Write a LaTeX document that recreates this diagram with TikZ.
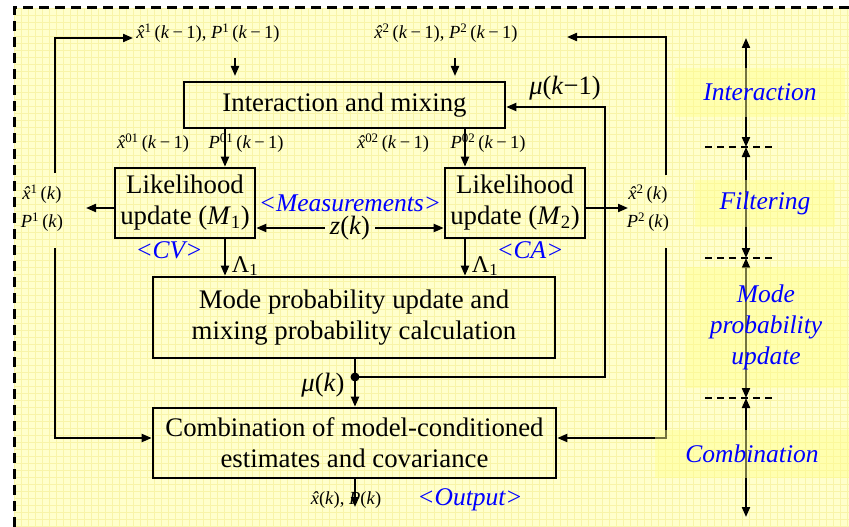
\documentclass[tikz,border=0pt]{standalone}
\usepackage{fontspec}
\setmainfont{Liberation Serif}
\usetikzlibrary{arrows.meta}
\definecolor{bgc}{RGB}{255,255,204}
\definecolor{gridc}{RGB}{248,244,168}
\definecolor{lblc}{RGB}{255,255,140}
\newcommand{\xh}{\textit{\accent"02C6 x}}
\newcommand{\km}{(\textit{k}\hspace{0.18em}−\hspace{0.18em}1)}
\begin{document}
\begin{tikzpicture}[x=1pt,y=-1pt,
  box/.style={draw, line width=2.6pt, inner sep=0pt, align=center, font=\fontsize{26.8}{31}\selectfont},
  arr/.style={line width=2pt, -{Triangle[length=10pt,width=8pt]}},
  ln/.style={line width=2pt},
  sm/.style={font=\fontsize{18.5}{22}\selectfont, inner sep=1pt, align=center},
  big/.style={font=\fontsize{26.5}{31}\selectfont, inner sep=1pt},
  blu/.style={text=blue, font=\fontsize{25.5}{30}\selectfont\itshape, inner sep=1pt},
  phase/.style={fill=lblc, fill opacity=0.45, text opacity=1, text=blue, font=\fontsize{25.5}{31}\selectfont\itshape, align=center, inner sep=0pt},
  dbl/.style={line width=2pt, {Triangle[length=10pt,width=8pt]}-{Triangle[length=10pt,width=8pt]}},
  sepl/.style={line width=2pt, dash pattern=on 7pt off 5pt},
  gridl/.style={gridc, line width=0.4pt}
]
\useasboundingbox (0,0) rectangle (849,527);
\fill[bgc] (14,8) rectangle (849,527);
\foreach \i in {0,...,119} \draw[gridl] ({14+7*\i},8) -- ({14+7*\i},527);
\foreach \j in {0,...,74} \draw[gridl] (14,{8+7*\j}) -- (849,{8+7*\j});
\draw[line width=3pt, dash pattern=on 10pt off 6pt] (14,527) -- (14,8) -- (849,8);

% boxes
\node[box, minimum width=321pt, minimum height=46pt] (inter) at (344.5,105) {Interaction and mixing};
\node[box, minimum width=140pt, minimum height=70pt] (lik1) at (185,203) {Likelihood\\update (\textit{M}\textsubscript{1})};
\node[box, minimum width=140pt, minimum height=70pt] (lik2) at (515,203) {Likelihood\\update (\textit{M}\textsubscript{2})};
\node[box, minimum width=402pt, minimum height=81pt] (mode) at (354,317.5) {Mode probability update and\\mixing probability calculation};
\node[box, minimum width=403pt, minimum height=70pt] (comb) at (354.5,443) {Combination of model-conditioned\\estimates and covariance};

% labels
\node[sm] (tl) at (208,33) {\xh\textsuperscript{1}\,\km, \textit{P}\textsuperscript{1}\,\km};
\node[sm] (tr) at (446,33) {\xh\textsuperscript{2}\,\km, \textit{P}\textsuperscript{2}\,\km};
\node[sm] (x01) at (153,143) {\xh\textsuperscript{01}\,\km};
\node[sm] (p01) at (246,143) {\textit{P}\textsuperscript{01}\,\km};
\node[sm] (x02) at (393,143) {\xh\textsuperscript{02}\,\km};
\node[sm] (p02) at (488,143) {\textit{P}\textsuperscript{02}\,\km};
\node[sm] (o1) at (42,208) {\xh\textsuperscript{1}\,(\textit{k})\\[6pt]\textit{P}\textsuperscript{1}\,(\textit{k})};
\node[sm] (o2) at (648,208) {\xh\textsuperscript{2}\,(\textit{k})\\[6pt]\textit{P}\textsuperscript{2}\,(\textit{k})};
\node[big] (mu1) at (565,88) {\textit{μ}(\textit{k}−1)};
\node[big, inner sep=5pt] (zk) at (350,228) {\textit{z}(\textit{k})};
\node[big] (mu) at (323,385) {\textit{μ}(\textit{k})};
\node[font=\fontsize{24}{28}\selectfont, inner sep=1pt] (lam1) at (245,266) {Λ\textsubscript{1}};
\node[font=\fontsize{24}{28}\selectfont, inner sep=1pt] (lam2) at (485,266) {Λ\textsubscript{1}};
\node[blu] (meas) at (350,203) {<Measurements>};
\node[blu] (cv) at (169,250) {<CV>};
\node[blu] (ca) at (530,250) {<CA>};
\node[blu] (outp) at (470,500) {<Output>};
\node[sm] (outl) at (346,500) {\xh(\textit{k}), \textit{P}(\textit{k})};

% coordinates
\coordinate (c1) at (225,0);
\coordinate (c2) at (465,0);
\coordinate (c3) at (355,0);
\coordinate (l1top) at (55,173);
\coordinate (l1bot) at (55,248);
\coordinate (r1top) at (666,175);
\coordinate (r1bot) at (666,248);
\coordinate (tltip) at (133,38);
\coordinate (trtip) at (567,37);
\coordinate (ina) at (235,58);
\coordinate (ina2) at (235,76);
\coordinate (inb) at (455,58);
\coordinate (inb2) at (455,76);
\coordinate (murun) at (605,107);
\coordinate (dot) at (355,377);
\coordinate (o1tip) at (86,208);
\coordinate (o2tip) at (628,208);
\coordinate (outtip) at (355,507);

% connectors
\draw[arr] (l1top) |- (tltip);
\draw[arr] (l1bot) |- ([yshift=5pt]comb.west);
\draw[arr] (r1top) |- (trtip);
\draw[arr] (r1bot) |- ([yshift=5pt]comb.east);
\draw[arr] (ina) -- (ina2);
\draw[arr] (inb) -- (inb2);
\draw[arr] (inter.south -| c1) -- (lik1.north -| c1);
\draw[arr] (inter.south -| c2) -- (lik2.north -| c2);
\draw[arr] (dot) -| (murun) -- (inter.east |- murun);
\draw[arr] ([yshift=-5pt]lik1.west) -- (o1tip);
\draw[arr] ([yshift=-5pt]lik2.east) -- (o2tip);
\draw[arr] (zk.west) -- (lik1.east |- zk.west);
\draw[arr] (zk.east) -- (lik2.west |- zk.east);
\draw[arr] (lik1.south -| c1) -- (mode.north -| c1);
\draw[arr] (lik2.south -| c2) -- (mode.north -| c2);
\draw[ln] (mode.south -| c3) -- (dot);
\draw[arr] (dot) -- (comb.north -| c3);
\fill (dot) circle (4.5pt);
\draw[arr] (comb.south -| c3) -- (outtip);

% right column
\coordinate (p0) at (746,38);
\coordinate (p1) at (746,147);
\coordinate (p2) at (746,258);
\coordinate (p3) at (746,398);
\coordinate (p4) at (746,517);
\coordinate (s1a) at (705,147); \coordinate (s1b) at (775,147);
\coordinate (s2a) at (705,258); \coordinate (s2b) at (775,258);
\coordinate (s3a) at (705,398); \coordinate (s3b) at (775,398);
\draw[dbl] (p0) -- (p1);
\draw[dbl] (p1) -- (p2);
\draw[dbl] (p2) -- (p3);
\draw[dbl] (p3) -- (p4);
\draw[sepl] (s1a) -- (s1b);
\draw[sepl] (s2a) -- (s2b);
\draw[sepl] (s3a) -- (s3b);

\node[phase, minimum width=170pt, minimum height=49pt] (ph1) at (760,92.5) {Interaction};
\node[phase, minimum width=140pt, minimum height=47pt] (ph2) at (765,203.5) {Filtering};
\node[phase, minimum width=162pt, minimum height=121pt] (ph3) at (766,327.5) {Mode\\probability\\update};
\node[phase, minimum width=194pt, minimum height=48pt] (ph4) at (752,454) {Combination};
\end{tikzpicture}
\end{document}
